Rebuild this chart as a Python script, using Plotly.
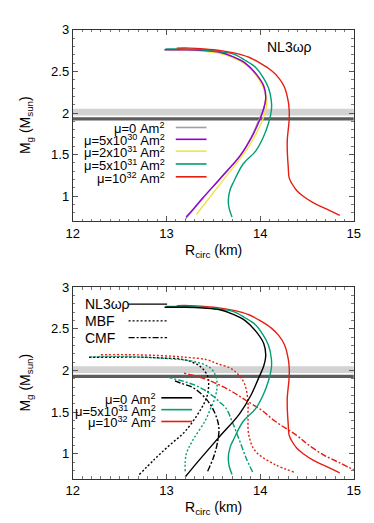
import plotly.graph_objects as go

W, H = 374, 523

# ---------------- data ----------------
# Top panel: NL3wp for several magnetic dipole moments
r_mu0 = [13.20, 13.28, 13.37, 13.57, 13.78, 13.90, 13.98, 14.04, 14.06, 14.04, 13.97, 13.84, 13.70, 13.57, 13.40, 13.20, 12.98]
m_mu0 = [0.72, 0.83, 0.95, 1.21, 1.48, 1.70, 1.90, 2.06, 2.18, 2.32, 2.45, 2.60, 2.68, 2.73, 2.75, 2.76, 2.76]

r_mu5e30 = [13.21, 13.29, 13.38, 13.58, 13.79, 13.91, 13.99, 14.04, 14.06, 14.04, 13.97, 13.84, 13.70, 13.57, 13.40, 13.20, 12.98]
m_mu5e30 = [0.75, 0.85, 0.97, 1.22, 1.49, 1.71, 1.90, 2.06, 2.18, 2.32, 2.45, 2.60, 2.68, 2.73, 2.75, 2.76, 2.76]

r_mu2e31 = [13.32, 13.45, 13.61, 13.75, 13.88, 13.97, 14.04, 14.07, 14.06, 14.00, 13.86, 13.70, 13.55, 13.30, 12.99]
m_mu2e31 = [0.78, 0.97, 1.20, 1.40, 1.60, 1.78, 1.96, 2.10, 2.22, 2.38, 2.57, 2.67, 2.72, 2.75, 2.76]

r_mu5e31 = [13.70, 13.67, 13.66, 13.68, 13.72, 13.82, 13.95, 14.03, 14.09, 14.12, 14.12, 14.09, 14.03, 13.95, 13.83, 13.71, 13.55, 13.37, 13.15, 12.99]
m_mu5e31 = [0.75, 0.85, 0.95, 1.08, 1.18, 1.39, 1.54, 1.70, 1.88, 2.03, 2.14, 2.30, 2.43, 2.55, 2.64, 2.71, 2.74, 2.76, 2.77, 2.77]

r_mu1e32 = [14.85, 14.70, 14.57, 14.46, 14.39, 14.34, 14.31, 14.30, 14.29, 14.29, 14.30, 14.31, 14.31, 14.30, 14.26, 14.20, 14.12, 14.00, 13.88, 13.73, 13.58, 13.40, 13.25, 13.11]
m_mu1e32 = [0.77, 0.85, 0.92, 1.00, 1.07, 1.15, 1.22, 1.35, 1.54, 1.68, 1.80, 1.92, 2.04, 2.14, 2.31, 2.42, 2.51, 2.60, 2.67, 2.72, 2.75, 2.77, 2.78, 2.78]

# Bottom panel: MBF (dotted) and CMF (dash-dot)
r_mbf_mu0 = [12.71, 12.87, 13.03, 13.20, 13.37, 13.43, 13.45, 13.44, 13.36, 13.19, 12.95, 12.75, 12.45, 12.17]
m_mbf_mu0 = [0.75, 0.93, 1.10, 1.27, 1.54, 1.68, 1.81, 1.93, 2.05, 2.13, 2.15, 2.16, 2.16, 2.16]
r_mbf_mu5e31 = [13.20, 13.21, 13.28, 13.41, 13.47, 13.52, 13.54, 13.53, 13.47, 13.29, 13.05, 12.75, 12.45, 12.17]
m_mbf_mu5e31 = [0.79, 0.99, 1.16, 1.39, 1.54, 1.68, 1.80, 1.92, 2.03, 2.11, 2.14, 2.16, 2.17, 2.16]
r_mbf_mu1e32 = [14.36, 14.16, 13.95, 13.88, 13.87, 13.87, 13.83, 13.71, 13.55, 13.43, 13.20, 12.92, 12.60, 12.29]
m_mbf_mu1e32 = [0.78, 0.87, 1.03, 1.22, 1.46, 1.62, 1.85, 2.01, 2.08, 2.13, 2.16, 2.18, 2.19, 2.19]

r_cmf_mu0 = [13.44, 13.50, 13.54, 13.56, 13.52, 13.43, 13.29, 13.15, 13.08]
m_cmf_mu0 = [0.79, 0.95, 1.11, 1.31, 1.48, 1.65, 1.79, 1.85, 1.88]
r_cmf_mu5e31 = [13.92, 13.85, 13.77, 13.70, 13.64, 13.57, 13.50, 13.40, 13.29, 13.15, 13.01]
m_cmf_mu5e31 = [0.78, 0.95, 1.19, 1.39, 1.54, 1.62, 1.69, 1.77, 1.83, 1.88, 1.92]
r_cmf_mu1e32 = [15.05, 14.85, 14.67, 14.50, 14.39, 14.16, 14.02, 13.85, 13.68, 13.50, 13.33, 13.18]
m_cmf_mu1e32 = [0.78, 0.89, 0.99, 1.12, 1.22, 1.39, 1.52, 1.64, 1.76, 1.86, 1.93, 1.97]

# observational mass bands
band_light = [1.97, 2.05]
band_dark = [1.91, 1.95]

x_ticks = [12, 13, 14, 15]
y_ticks = [1, 1.5, 2, 2.5, 3]

top_labels = ["μ=0 Am<sup>2</sup>", "μ=5x10<sup>30</sup> Am<sup>2</sup>", "μ=2x10<sup>31</sup> Am<sup>2</sup>",
              "μ=5x10<sup>31</sup> Am<sup>2</sup>", "μ=10<sup>32</sup> Am<sup>2</sup>"]
bot_mu_labels = ["μ=0 Am<sup>2</sup>", "μ=5x10<sup>31</sup> Am<sup>2</sup>", "μ=10<sup>32</sup> Am<sup>2</sup>"]
eos_labels = ["NL3ωρ", "MBF", "CMF"]

# ---------------- styles ----------------
GREY = "#a0a0a0"
PURPLE = "#9400d3"
YELLOW = "#f0e442"
GREEN = "#009e73"
RED = "#e51e10"
BLACK = "#000000"
FONT = "Liberation Sans"
DOT = "2px,2px"
DASHDOT = "6px,2px,2px,2px"

fig = go.Figure()


def add(r, m, color, xa, ya, dash="solid", width=1.4):
    fig.add_trace(go.Scatter(x=r, y=m, mode="lines", xaxis=xa, yaxis=ya,
                             line=dict(color=color, width=width, dash=dash, shape="spline", smoothing=1.0),
                             showlegend=False, hoverinfo="skip"))


# top panel
add(r_mu0, m_mu0, GREY, "x", "y")
add(r_mu2e31, m_mu2e31, YELLOW, "x", "y")
add(r_mu5e30, m_mu5e30, PURPLE, "x", "y")
add(r_mu5e31, m_mu5e31, GREEN, "x", "y")
add(r_mu1e32, m_mu1e32, RED, "x", "y")

# bottom panel
add(r_mbf_mu0, m_mbf_mu0, BLACK, "x2", "y2", DOT)
add(r_mbf_mu5e31, m_mbf_mu5e31, GREEN, "x2", "y2", DOT)
add(r_mbf_mu1e32, m_mbf_mu1e32, RED, "x2", "y2", DOT)
add(r_cmf_mu0, m_cmf_mu0, BLACK, "x2", "y2", DASHDOT)
add(r_cmf_mu5e31, m_cmf_mu5e31, GREEN, "x2", "y2", DASHDOT)
add(r_cmf_mu1e32, m_cmf_mu1e32, RED, "x2", "y2", DASHDOT)
add(r_mu1e32, m_mu1e32, RED, "x2", "y2")
add(r_mu5e31, m_mu5e31, GREEN, "x2", "y2")
add(r_mu0, m_mu0, BLACK, "x2", "y2")

# bands
for xr, yr in [("x", "y"), ("x2", "y2")]:
    fig.add_shape(type="rect", xref=xr, yref=yr, x0=12, x1=15, y0=band_light[0], y1=band_light[1],
                  fillcolor="#d2d2d2", line_width=0, layer="below")
    fig.add_shape(type="rect", xref=xr, yref=yr, x0=12, x1=15, y0=band_dark[0], y1=band_dark[1],
                  fillcolor="#5c5c5c", line_width=0, layer="below")


def px(x):
    return x / W


def py(y):
    return 1 - y / H


# axes
top_dom = [py(209), py(15)]
bot_dom = [py(470), py(276)]
xdom = [px(60), px(352)]

axcommon = dict(showline=True, linecolor="#333333", linewidth=1, mirror="allticks",
                ticks="inside", ticklen=5, tickcolor="#555555", showgrid=False, zeroline=False,
                tickfont=dict(family=FONT, size=13, color="#000"),
                minor=dict(ticks="inside", ticklen=2.5, tickcolor="#777777", dtick=0.1, showgrid=False))

fig.update_layout(
    width=W, height=H, margin=dict(l=0, r=0, t=0, b=0),
    paper_bgcolor="white", plot_bgcolor="white", showlegend=False,
    xaxis=dict(domain=xdom, range=[12, 15], anchor="y", tickvals=x_ticks, **axcommon),
    yaxis=dict(domain=top_dom, range=[0.7, 3], anchor="x", tickvals=y_ticks, **axcommon),
    xaxis2=dict(domain=xdom, range=[12, 15], anchor="y2", tickvals=x_ticks, **axcommon),
    yaxis2=dict(domain=bot_dom, range=[0.7, 3], anchor="x2", tickvals=y_ticks, **axcommon),
)

ann = []


def text(x, y, s, xanchor="center", size=14, angle=0):
    ann.append(dict(x=px(x), y=py(y), xref="paper", yref="paper", text=s, showarrow=False,
                    xanchor=xanchor, yanchor="middle", textangle=angle,
                    font=dict(family=FONT, size=size, color="#000")))


def seg(x0, x1, y, color, dash="solid", width=1.6):
    fig.add_shape(type="line", xref="paper", yref="paper", x0=px(x0), x1=px(x1), y0=py(y), y1=py(y),
                  line=dict(color=color, width=width, dash=dash))


# axis titles
for ytitle, xtitle_y in [(112, 239), (373, 500)]:
    text(206, xtitle_y, "R<sub>circ</sub> (km)", size=14)
    text(11, ytitle, "M<sub>g</sub> (M<sub>sun</sub>)", size=14, angle=-90)

# top panel label
text(285, 32, "NL3ωρ", size=14)

# top legend
top_cols = [GREY, PURPLE, YELLOW, GREEN, RED]
top_y = [114, 126, 138, 151, 164]
for lab, c, yy in zip(top_labels, top_cols, top_y):
    text(158, yy + 1, lab, xanchor="right", size=13)
    seg(167, 199, yy, c)

# bottom EOS legend
eos_y = [293, 310, 327]
eos_dash = ["solid", DOT, DASHDOT]
for lab, d, yy in zip(eos_labels, eos_dash, eos_y):
    text(71, yy, lab, xanchor="left", size=14)
    seg(118, 158, yy, BLACK, d, 1.4)

# bottom mu legend
bot_cols = [BLACK, GREEN, RED]
bot_y = [388, 400, 412]
for lab, c, yy in zip(bot_mu_labels, bot_cols, bot_y):
    text(149, yy + 1, lab, xanchor="right", size=13)
    seg(152, 184, yy, c)

fig.update_layout(annotations=ann)
fig.write_html("out.html")
